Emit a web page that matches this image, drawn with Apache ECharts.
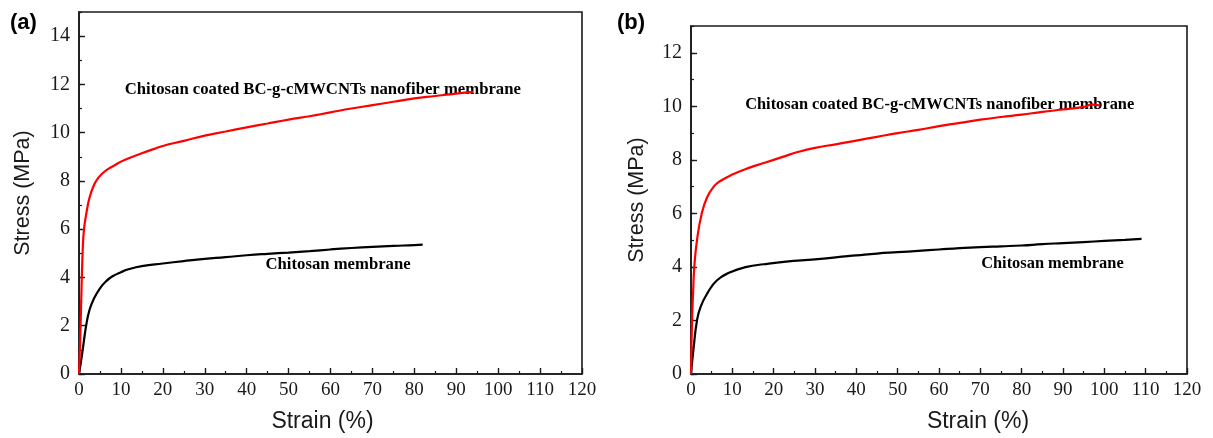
<!DOCTYPE html>
<html>
<head>
<meta charset="utf-8">
<script src="https://cdn.jsdelivr.net/npm/echarts@6/dist/echarts.min.js"></script>
<style>
  html, body { margin: 0; padding: 0; background: #fff; }
  #chart { width: 1213px; height: 438px; }
</style>
</head>
<body>
<div id="chart"></div>
<script>
// Tensile curves, panel (a)
const strainCoatedA = [0, 0.3, 0.6, 0.9, 1.2, 1.8, 2.5, 3.5, 4.5, 5.5, 7, 8.5, 10, 12, 15, 18, 20, 25, 30, 35, 40, 45, 50, 55, 60, 65, 70, 75, 80, 85, 90, 94];
const stressCoatedA = [0, 1.5, 3.5, 5.2, 6.0, 6.7, 7.3, 7.8, 8.1, 8.3, 8.5, 8.65, 8.8, 8.95, 9.15, 9.33, 9.45, 9.66, 9.88, 10.05, 10.22, 10.38, 10.54, 10.68, 10.84, 11.0, 11.14, 11.28, 11.42, 11.52, 11.62, 11.69];
const strainPlainA = [0, 0.5, 1, 1.7, 2.5, 3.5, 5, 6.5, 8, 10, 12, 15, 20, 25, 30, 35, 40, 45, 50, 55, 60, 65, 70, 75, 80, 82];
const stressPlainA = [0, 0.55, 1.15, 2.0, 2.65, 3.1, 3.55, 3.85, 4.05, 4.22, 4.35, 4.47, 4.58, 4.68, 4.77, 4.84, 4.92, 4.98, 5.03, 5.09, 5.16, 5.22, 5.27, 5.31, 5.34, 5.36];

// Tensile curves, panel (b)
const strainCoatedB = [0, 0.25, 0.5, 0.8, 1.45, 2.6, 3.9, 5.5, 7, 10, 14, 18, 22, 26, 30, 35, 40, 45, 50, 55, 60, 65, 70, 75, 80, 85, 90, 95, 97, 99];
const stressCoatedB = [0, 2, 3, 4, 5, 6, 6.6, 7.0, 7.2, 7.45, 7.7, 7.9, 8.1, 8.3, 8.45, 8.58, 8.72, 8.86, 9.0, 9.12, 9.26, 9.38, 9.5, 9.6, 9.69, 9.79, 9.88, 9.98, 10.06, 10.03];
const strainPlainB = [0, 0.65, 1.45, 2.3, 3.9, 6.3, 9.5, 13.5, 17.6, 23, 30, 35, 40, 45, 50, 55, 60, 65, 70, 75, 80, 85, 90, 95, 100, 105, 109];
const stressPlainB = [0, 1, 2, 2.5, 3.0, 3.5, 3.8, 4.0, 4.1, 4.2, 4.28, 4.36, 4.43, 4.5, 4.55, 4.6, 4.65, 4.7, 4.74, 4.77, 4.8, 4.85, 4.89, 4.93, 4.97, 5.01, 5.05];

// Axis ranges and captions
const strainMax = 120;
const stressMaxA = 15;
const stressMaxB = 13;
const panelTags = ['(a)', '(b)'];
const curveNames = ['Chitosan coated BC-g-cMWCNTs nanofiber membrane', 'Chitosan membrane'];
const xAxisTitle = 'Strain (%)';
const yAxisTitle = 'Stress (MPa)';

const pairs = (xs, ys) => xs.map((x, i) => [x, ys[i]]);

const SERIF = '"Liberation Serif", "Times New Roman", serif';
const SANS = '"Liberation Sans", Arial, sans-serif';
const INK = '#1a1a1a';

const panels = [
  {
    grid: { left: 79, top: 12, width: 503, height: 364 },
    yMax: stressMaxA,
    curves: [pairs(strainCoatedA, stressCoatedA), pairs(strainPlainA, stressPlainA)],
    xNameShift: -8,
    yNameGap: 45,
    notes: [{ at: [10.9, 11.7], size: 16.7 }, { at: [44.5, 4.46], size: 16.7 }],
    tagLeft: 10
  },
  {
    grid: { left: 691, top: 26, width: 496, height: 350 },
    yMax: stressMaxB,
    curves: [pairs(strainCoatedB, stressCoatedB), pairs(strainPlainB, stressPlainB)],
    xNameShift: 39,
    yNameGap: 43,
    notes: [{ at: [13.1, 9.99], size: 16.4 }, { at: [70.2, 4.06], size: 16.4 }],
    tagLeft: 617
  }
];

const grids = [], xAxes = [], yAxes = [], series = [];
panels.forEach((p, i) => {
  grids.push(Object.assign({ show: true, borderColor: INK, borderWidth: 1.6, backgroundColor: 'transparent' }, p.grid));
  const shift = p.xNameShift;
  xAxes.push({
    type: 'value', gridIndex: i, min: 0, max: strainMax, interval: 10,
    name: xAxisTitle, nameLocation: 'middle', nameGap: 36,
    nameTextStyle: {
      fontFamily: SANS, fontSize: 23, color: INK,
      padding: shift >= 0 ? [0, 0, 0, 2 * shift] : [0, -2 * shift, 0, 0]
    },
    axisLine: { lineStyle: { color: INK, width: 1.6 } },
    axisTick: { inside: true, length: 6, lineStyle: { color: INK, width: 1.4 } },
    minorTick: { show: true, splitNumber: 2, length: 3, lineStyle: { color: INK, width: 1.2 } },
    axisLabel: { fontFamily: SERIF, fontSize: 19, color: INK, margin: 7 },
    splitLine: { show: false }
  });
  // labelled axis with ticks every 2 MPa
  yAxes.push({
    type: 'value', gridIndex: i, position: 'left', min: 0, max: p.yMax, interval: 2,
    name: yAxisTitle, nameLocation: 'middle', nameGap: p.yNameGap, nameRotate: 90,
    nameTextStyle: { fontFamily: SANS, fontSize: 21.5, color: INK },
    axisLine: { lineStyle: { color: INK, width: 1.6 } },
    axisTick: { inside: true, length: 6, lineStyle: { color: INK, width: 1.4 } },
    axisLabel: { fontFamily: SERIF, fontSize: 20, color: INK, margin: 9, showMaxLabel: false },
    splitLine: { show: false }
  });
  // short ticks every 1 MPa
  yAxes.push({
    type: 'value', gridIndex: i, position: 'left', offset: 0, min: 0, max: p.yMax, interval: 1,
    axisLine: { show: false },
    axisTick: { inside: true, length: 3, lineStyle: { color: INK, width: 1.2 } },
    axisLabel: { show: false },
    splitLine: { show: false }
  });
  p.curves.forEach((data, k) => {
    series.push({
      type: 'line', name: curveNames[k], xAxisIndex: i, yAxisIndex: 2 * i,
      data, showSymbol: false, smooth: 0.5,
      lineStyle: { color: k === 0 ? '#ff0000' : '#000000', width: 2.2 },
      z: k === 0 ? 3 : 2, silent: true
    });
  });
});

const chart = echarts.init(document.getElementById('chart'), null, { renderer: 'canvas' });
chart.setOption({
  animation: false,
  backgroundColor: '#ffffff',
  grid: grids,
  xAxis: xAxes,
  yAxis: yAxes,
  series
});

// Curve captions anchored in data space, plus the panel tags
const graphic = [];
panels.forEach((p, i) => {
  p.notes.forEach((n, k) => {
    const [px, py] = chart.convertToPixel({ xAxisIndex: i, yAxisIndex: 2 * i }, n.at);
    graphic.push({
      type: 'text', left: px, top: py - n.size * 0.6,
      style: { text: curveNames[k], font: `bold ${n.size}px ${SERIF}`, fill: '#000' }
    });
  });
  graphic.push({
    type: 'text', left: p.tagLeft, top: 12,
    style: { text: panelTags[i], font: `bold 22px ${SANS}`, fill: '#000' }
  });
});
chart.setOption({ graphic });
</script>
</body>
</html>
